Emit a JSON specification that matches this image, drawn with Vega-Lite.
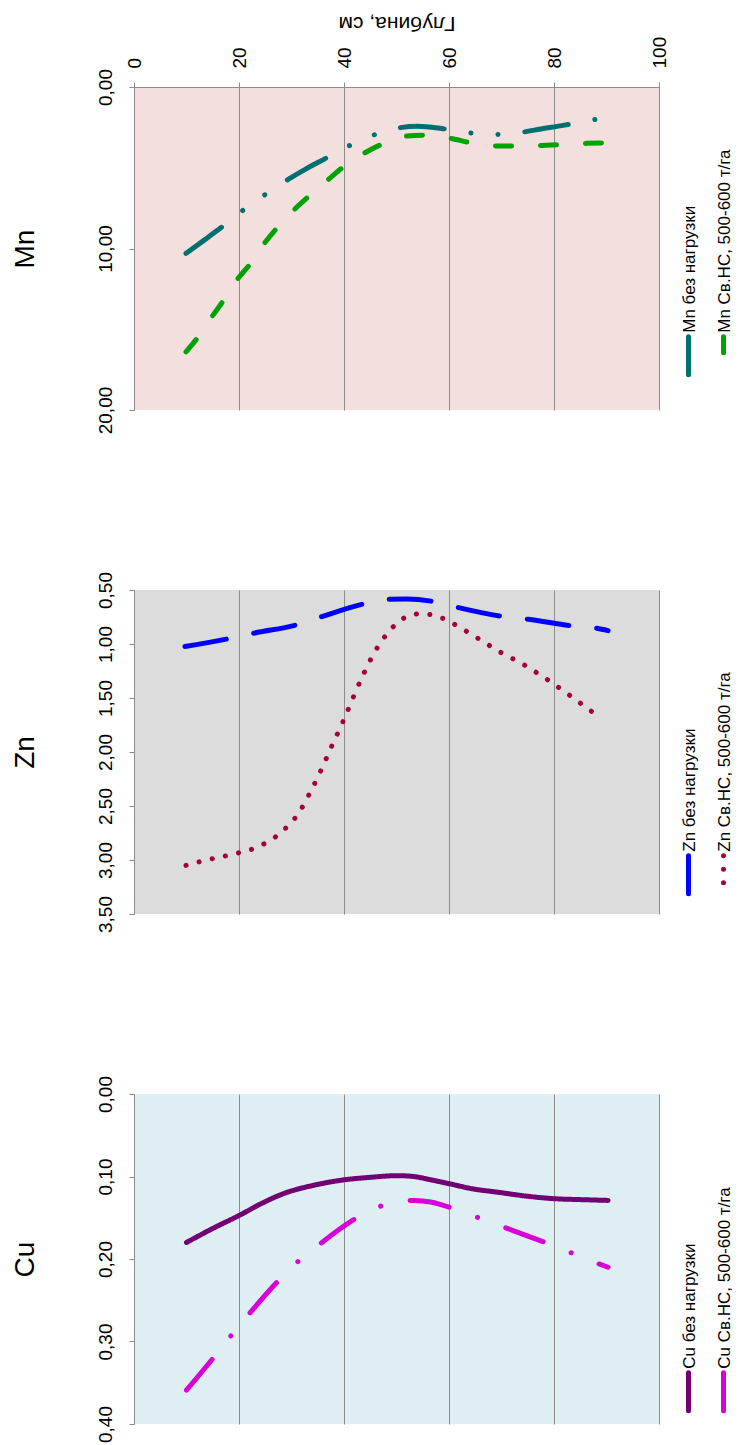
{
  "$schema": "https://vega.github.io/schema/vega-lite/v6.json",
  "padding": {"left": 10, "top": 12, "right": 5, "bottom": 5},
  "bounds": "flush",
  "spacing": 180,
  "resolve": {"scale": {"color": "independent", "strokeDash": "independent"}, "legend": {"color": "independent", "strokeDash": "independent"}},
  "config": {
    "font": "Liberation Sans",
    "view": {"stroke": null},
    "axis": {
      "labelFont": "Liberation Sans", "labelFontSize": 19, "labelColor": "#000000",
      "titleFont": "Liberation Sans", "titleFontWeight": "normal", "titleColor": "#000000",
      "domainColor": "#8c8c8c", "tickColor": "#8c8c8c", "gridColor": "#8c8c8c", "gridOpacity": 1, "tickSize": 5
    },
    "legend": {
      "orient": "none", "direction": "horizontal", "padding": 0,
      "symbolType": "M0,-1L0,1", "symbolSize": 1444, "symbolStrokeWidth": 5,
      "labelFont": "Liberation Sans", "labelFontSize": 17, "labelColor": "#000000", "labelLimit": 0,
      "labelOffset": 0, "columnPadding": 3
    },
    "line": {"strokeWidth": 5, "strokeCap": "round", "interpolate": "monotone"}
  },
  "datasets": {
    "mn": [
      {"depth": 9.9, "value": 10.3, "series": "Mn без нагрузки"},
      {"depth": 13.5, "value": 9.45, "series": "Mn без нагрузки"},
      {"depth": 16.9, "value": 8.63, "series": "Mn без нагрузки"},
      {"depth": 20.7, "value": 7.65, "series": "Mn без нагрузки"},
      {"depth": 24.7, "value": 6.72, "series": "Mn без нагрузки"},
      {"depth": 28.7, "value": 5.86, "series": "Mn без нагрузки"},
      {"depth": 32.6, "value": 5.1, "series": "Mn без нагрузки"},
      {"depth": 36.5, "value": 4.42, "series": "Mn без нагрузки"},
      {"depth": 40.7, "value": 3.68, "series": "Mn без нагрузки"},
      {"depth": 45.1, "value": 3.04, "series": "Mn без нагрузки"},
      {"depth": 49.8, "value": 2.57, "series": "Mn без нагрузки"},
      {"depth": 54, "value": 2.43, "series": "Mn без нагрузки"},
      {"depth": 58.6, "value": 2.57, "series": "Mn без нагрузки"},
      {"depth": 63.4, "value": 2.82, "series": "Mn без нагрузки"},
      {"depth": 68.3, "value": 2.94, "series": "Mn без нагрузки"},
      {"depth": 73.1, "value": 2.84, "series": "Mn без нагрузки"},
      {"depth": 77.5, "value": 2.6, "series": "Mn без нагрузки"},
      {"depth": 82, "value": 2.36, "series": "Mn без нагрузки"},
      {"depth": 86.6, "value": 2.08, "series": "Mn без нагрузки"},
      {"depth": 90, "value": 1.9, "series": "Mn без нагрузки"},
      {"depth": 9.9, "value": 16.4, "series": "Mn Св.НС, 500-600 т/га"},
      {"depth": 12.4, "value": 15.4, "series": "Mn Св.НС, 500-600 т/га"},
      {"depth": 14.9, "value": 14.2, "series": "Mn Св.НС, 500-600 т/га"},
      {"depth": 17.3, "value": 13.1, "series": "Mn Св.НС, 500-600 т/га"},
      {"depth": 19.7, "value": 11.9, "series": "Mn Св.НС, 500-600 т/га"},
      {"depth": 22.3, "value": 10.9, "series": "Mn Св.НС, 500-600 т/га"},
      {"depth": 24.9, "value": 9.66, "series": "Mn Св.НС, 500-600 т/га"},
      {"depth": 27.5, "value": 8.63, "series": "Mn Св.НС, 500-600 т/га"},
      {"depth": 30.5, "value": 7.6, "series": "Mn Св.НС, 500-600 т/га"},
      {"depth": 33.6, "value": 6.68, "series": "Mn Св.НС, 500-600 т/га"},
      {"depth": 36.9, "value": 5.76, "series": "Mn Св.НС, 500-600 т/га"},
      {"depth": 40.1, "value": 4.89, "series": "Mn Св.НС, 500-600 т/га"},
      {"depth": 44, "value": 4.07, "series": "Mn Св.НС, 500-600 т/га"},
      {"depth": 47.6, "value": 3.49, "series": "Mn Св.НС, 500-600 т/га"},
      {"depth": 51.9, "value": 3.04, "series": "Mn Св.НС, 500-600 т/га"},
      {"depth": 56, "value": 2.98, "series": "Mn Св.НС, 500-600 т/га"},
      {"depth": 60.5, "value": 3.19, "series": "Mn Св.НС, 500-600 т/га"},
      {"depth": 64.6, "value": 3.49, "series": "Mn Св.НС, 500-600 т/га"},
      {"depth": 68.9, "value": 3.66, "series": "Mn Св.НС, 500-600 т/га"},
      {"depth": 73.3, "value": 3.66, "series": "Mn Св.НС, 500-600 т/га"},
      {"depth": 77.7, "value": 3.62, "series": "Mn Св.НС, 500-600 т/га"},
      {"depth": 82, "value": 3.56, "series": "Mn Св.НС, 500-600 т/га"},
      {"depth": 86.3, "value": 3.49, "series": "Mn Св.НС, 500-600 т/га"},
      {"depth": 90.2, "value": 3.45, "series": "Mn Св.НС, 500-600 т/га"}
    ],
    "zn": [
      {"depth": 9.7, "value": 1.023, "series": "Zn без нагрузки"},
      {"depth": 18.5, "value": 0.946, "series": "Zn без нагрузки"},
      {"depth": 22.8, "value": 0.9, "series": "Zn без нагрузки"},
      {"depth": 31.4, "value": 0.817, "series": "Zn без нагрузки"},
      {"depth": 35.8, "value": 0.746, "series": "Zn без нагрузки"},
      {"depth": 44.3, "value": 0.623, "series": "Zn без нагрузки"},
      {"depth": 48.7, "value": 0.586, "series": "Zn без нагрузки"},
      {"depth": 51.9, "value": 0.583, "series": "Zn без нагрузки"},
      {"depth": 57.2, "value": 0.608, "series": "Zn без нагрузки"},
      {"depth": 61.8, "value": 0.663, "series": "Zn без нагрузки"},
      {"depth": 70.4, "value": 0.746, "series": "Zn без нагрузки"},
      {"depth": 75.1, "value": 0.771, "series": "Zn без нагрузки"},
      {"depth": 83.7, "value": 0.833, "series": "Zn без нагрузки"},
      {"depth": 88.2, "value": 0.854, "series": "Zn без нагрузки"},
      {"depth": 90.3, "value": 0.876, "series": "Zn без нагрузки"},
      {"depth": 9.9, "value": 3.05, "series": "Zn Св.НС, 500-600 т/га"},
      {"depth": 14.7, "value": 2.99, "series": "Zn Св.НС, 500-600 т/га"},
      {"depth": 19.4, "value": 2.94, "series": "Zn Св.НС, 500-600 т/га"},
      {"depth": 24, "value": 2.87, "series": "Zn Св.НС, 500-600 т/га"},
      {"depth": 28.1, "value": 2.74, "series": "Zn Св.НС, 500-600 т/га"},
      {"depth": 31.3, "value": 2.57, "series": "Zn Св.НС, 500-600 т/га"},
      {"depth": 33.7, "value": 2.36, "series": "Zn Св.НС, 500-600 т/га"},
      {"depth": 35.8, "value": 2.15, "series": "Zn Св.НС, 500-600 т/га"},
      {"depth": 37.8, "value": 1.93, "series": "Zn Св.НС, 500-600 т/га"},
      {"depth": 39.8, "value": 1.72, "series": "Zn Св.НС, 500-600 т/га"},
      {"depth": 41.7, "value": 1.5, "series": "Zn Св.НС, 500-600 т/га"},
      {"depth": 43.7, "value": 1.28, "series": "Zn Св.НС, 500-600 т/га"},
      {"depth": 45.9, "value": 1.07, "series": "Zn Св.НС, 500-600 т/га"},
      {"depth": 48.7, "value": 0.876, "series": "Zn Св.НС, 500-600 т/га"},
      {"depth": 50.5, "value": 0.79, "series": "Zn Св.НС, 500-600 т/га"},
      {"depth": 52.5, "value": 0.737, "series": "Zn Св.НС, 500-600 т/га"},
      {"depth": 54.9, "value": 0.719, "series": "Zn Св.НС, 500-600 т/га"},
      {"depth": 57.3, "value": 0.737, "series": "Zn Св.НС, 500-600 т/га"},
      {"depth": 59.5, "value": 0.777, "series": "Zn Св.НС, 500-600 т/га"},
      {"depth": 61.6, "value": 0.833, "series": "Zn Св.НС, 500-600 т/га"},
      {"depth": 65.8, "value": 0.956, "series": "Zn Св.НС, 500-600 т/га"},
      {"depth": 69.9, "value": 1.079, "series": "Zn Св.НС, 500-600 т/га"},
      {"depth": 74.2, "value": 1.19, "series": "Zn Св.НС, 500-600 т/га"},
      {"depth": 78.3, "value": 1.316, "series": "Zn Св.НС, 500-600 т/га"},
      {"depth": 82.3, "value": 1.451, "series": "Zn Св.НС, 500-600 т/га"},
      {"depth": 86.2, "value": 1.59, "series": "Zn Св.НС, 500-600 т/га"},
      {"depth": 88.2, "value": 1.66, "series": "Zn Св.НС, 500-600 т/га"}
    ],
    "cu": [
      {"depth": 10, "value": 0.18, "series": "Cu без нагрузки"},
      {"depth": 15, "value": 0.163, "series": "Cu без нагрузки"},
      {"depth": 20.1, "value": 0.147, "series": "Cu без нагрузки"},
      {"depth": 24.5, "value": 0.132, "series": "Cu без нагрузки"},
      {"depth": 28.8, "value": 0.12, "series": "Cu без нагрузки"},
      {"depth": 34, "value": 0.111, "series": "Cu без нагрузки"},
      {"depth": 40.1, "value": 0.104, "series": "Cu без нагрузки"},
      {"depth": 45, "value": 0.101, "series": "Cu без нагрузки"},
      {"depth": 50.2, "value": 0.099, "series": "Cu без нагрузки"},
      {"depth": 53.2, "value": 0.1, "series": "Cu без нагрузки"},
      {"depth": 56.5, "value": 0.104, "series": "Cu без нагрузки"},
      {"depth": 60.2, "value": 0.109, "series": "Cu без нагрузки"},
      {"depth": 64.5, "value": 0.115, "series": "Cu без нагрузки"},
      {"depth": 69.2, "value": 0.119, "series": "Cu без нагрузки"},
      {"depth": 75, "value": 0.124, "series": "Cu без нагрузки"},
      {"depth": 80.3, "value": 0.127, "series": "Cu без нагрузки"},
      {"depth": 85, "value": 0.128, "series": "Cu без нагрузки"},
      {"depth": 90.3, "value": 0.129, "series": "Cu без нагрузки"},
      {"depth": 10, "value": 0.359, "series": "Cu Св.НС, 500-600 т/га"},
      {"depth": 15.6, "value": 0.316, "series": "Cu Св.НС, 500-600 т/га"},
      {"depth": 18.6, "value": 0.292, "series": "Cu Св.НС, 500-600 т/га"},
      {"depth": 21.6, "value": 0.269, "series": "Cu Св.НС, 500-600 т/га"},
      {"depth": 27.4, "value": 0.227, "series": "Cu Св.НС, 500-600 т/га"},
      {"depth": 30.9, "value": 0.205, "series": "Cu Св.НС, 500-600 т/га"},
      {"depth": 34.6, "value": 0.186, "series": "Cu Св.НС, 500-600 т/га"},
      {"depth": 41.7, "value": 0.153, "series": "Cu Св.НС, 500-600 т/га"},
      {"depth": 45.8, "value": 0.139, "series": "Cu Св.НС, 500-600 т/га"},
      {"depth": 50.8, "value": 0.13, "series": "Cu Св.НС, 500-600 т/га"},
      {"depth": 53.5, "value": 0.129, "series": "Cu Св.НС, 500-600 т/га"},
      {"depth": 56.5, "value": 0.131, "series": "Cu Св.НС, 500-600 т/га"},
      {"depth": 58.9, "value": 0.135, "series": "Cu Св.НС, 500-600 т/га"},
      {"depth": 63.5, "value": 0.145, "series": "Cu Св.НС, 500-600 т/га"},
      {"depth": 68.2, "value": 0.156, "series": "Cu Св.НС, 500-600 т/га"},
      {"depth": 76.2, "value": 0.175, "series": "Cu Св.НС, 500-600 т/га"},
      {"depth": 80.9, "value": 0.186, "series": "Cu Св.НС, 500-600 т/га"},
      {"depth": 85.3, "value": 0.198, "series": "Cu Св.НС, 500-600 т/га"},
      {"depth": 90.3, "value": 0.21, "series": "Cu Св.НС, 500-600 т/га"}
    ]
  },
  "vconcat": [
    {
      "width": 525, "height": 323,
      "view": {"fill": "#F3DFDE", "stroke": null},
      "data": {"name": "mn"},
      "mark": {"type": "line"},
      "encoding": {
        "x": {"field": "depth", "type": "quantitative", "scale": {"domain": [0, 100], "nice": false},
          "axis": {"orient": "top", "values": [0, 20, 40, 60, 80, 100], "format": "d", "labelAngle": 270, "labelAlign": "left", "labelBaseline": "middle", "labelPadding": 14, "grid": true, "domain": true, "ticks": true,
            "title": "Глубина, см", "titleAngle": 180, "titleBaseline": "top", "titleFontSize": 21, "titlePadding": 3}},
        "y": {"field": "value", "type": "quantitative", "scale": {"domain": [0, 20], "reverse": true, "nice": false},
          "axis": {"orient": "left", "values": [0, 10, 20], "labelExpr": "replace(format(datum.value, '.2f'), '.', ',')", "labelAngle": 270, "labelAlign": "center", "labelBaseline": "bottom", "labelPadding": 14, "grid": false,
            "title": "Mn", "titleFontSize": 28, "titleAngle": 270, "titlePadding": 57}},
        "color": {"field": "series", "type": "nominal",
          "scale": {"domain": ["Mn без нагрузки", "Mn Св.НС, 500-600 т/га"], "range": ["#006F6F", "#00A300"]},
          "legend": {"title": null, "legendX": 533, "legendY": 247,
            "encoding": {"labels": {"angle": {"value": 270}, "dx": {"value": 23}, "dy": {"value": -20}}, "symbols": {"strokeCap": {"value": "round"}}}}},
        "strokeDash": {"field": "series", "type": "nominal",
          "scale": {"domain": ["Mn без нагрузки", "Mn Св.НС, 500-600 т/га"], "range": [[44, 27, 0.1, 27, 0.1, 27], [16, 29]]},
          "legend": {"title": null, "legendX": 533, "legendY": 247,
            "encoding": {"labels": {"angle": {"value": 270}, "dx": {"value": 23}, "dy": {"value": -20}}, "symbols": {"strokeCap": {"value": "round"}}}}}
      }
    },
    {
      "width": 525, "height": 324,
      "view": {"fill": "#DCDCDC", "stroke": null},
      "data": {"name": "zn"},
      "mark": {"type": "line"},
      "encoding": {
        "x": {"field": "depth", "type": "quantitative", "scale": {"domain": [0, 100], "nice": false},
          "axis": {"orient": "top", "values": [0, 20, 40, 60, 80, 100], "labels": false, "ticks": false, "domain": false, "grid": true, "title": null}},
        "y": {"field": "value", "type": "quantitative", "scale": {"domain": [0.5, 3.5], "reverse": true, "nice": false, "zero": false},
          "axis": {"orient": "left", "values": [0.5, 1, 1.5, 2, 2.5, 3, 3.5], "labelExpr": "replace(format(datum.value, '.2f'), '.', ',')", "labelAngle": 270, "labelAlign": "center", "labelBaseline": "bottom", "labelPadding": 14, "grid": false,
            "title": "Zn", "titleFontSize": 28, "titleAngle": 270, "titlePadding": 57}},
        "color": {"field": "series", "type": "nominal",
          "scale": {"domain": ["Zn без нагрузки", "Zn Св.НС, 500-600 т/га"], "range": ["#0000FF", "#A5003A"]},
          "legend": {"title": null, "legendX": 533, "legendY": 263,
            "encoding": {"labels": {"angle": {"value": 270}, "dx": {"value": 23}, "dy": {"value": -20}}, "symbols": {"strokeCap": {"value": "round"}}}}},
        "strokeDash": {"field": "series", "type": "nominal",
          "scale": {"domain": ["Zn без нагрузки", "Zn Св.НС, 500-600 т/га"], "range": [[42, 28], [0.1, 13.4]]},
          "legend": {"title": null, "legendX": 533, "legendY": 263,
            "encoding": {"labels": {"angle": {"value": 270}, "dx": {"value": 23}, "dy": {"value": -20}}, "symbols": {"strokeCap": {"value": "round"}}}}}
      }
    },
    {
      "width": 525, "height": 330,
      "view": {"fill": "#DEEEF2", "stroke": null},
      "data": {"name": "cu"},
      "mark": {"type": "line"},
      "encoding": {
        "x": {"field": "depth", "type": "quantitative", "scale": {"domain": [0, 100], "nice": false},
          "axis": {"orient": "top", "values": [0, 20, 40, 60, 80, 100], "labels": false, "ticks": false, "domain": false, "grid": true, "title": null}},
        "y": {"field": "value", "type": "quantitative", "scale": {"domain": [0, 0.4], "reverse": true, "nice": false},
          "axis": {"orient": "left", "values": [0, 0.1, 0.2, 0.3, 0.4], "labelExpr": "replace(format(datum.value, '.2f'), '.', ',')", "labelAngle": 270, "labelAlign": "center", "labelBaseline": "bottom", "labelPadding": 14, "grid": false,
            "title": "Cu", "titleFontSize": 28, "titleAngle": 270, "titlePadding": 57}},
        "strokeWidth": {"condition": {"test": "datum.series === 'Cu без нагрузки'", "value": 4}, "value": 5},
        "color": {"field": "series", "type": "nominal",
          "scale": {"domain": ["Cu без нагрузки", "Cu Св.НС, 500-600 т/га"], "range": ["#720072", "#D900D9"]},
          "legend": {"title": null, "legendX": 533, "legendY": 276,
            "encoding": {"labels": {"angle": {"value": 270}, "dx": {"value": 23}, "dy": {"value": -20}}, "symbols": {"strokeCap": {"value": "round"}}}}},
        "strokeDash": {"field": "series", "type": "nominal",
          "scale": {"domain": ["Cu без нагрузки", "Cu Св.НС, 500-600 т/га"], "range": [[1, 0], [40, 30, 0.1, 30]]},
          "legend": {"title": null, "legendX": 533, "legendY": 276,
            "encoding": {"labels": {"angle": {"value": 270}, "dx": {"value": 23}, "dy": {"value": -20}}, "symbols": {"strokeCap": {"value": "round"}}}}}
      }
    }
  ]
}
